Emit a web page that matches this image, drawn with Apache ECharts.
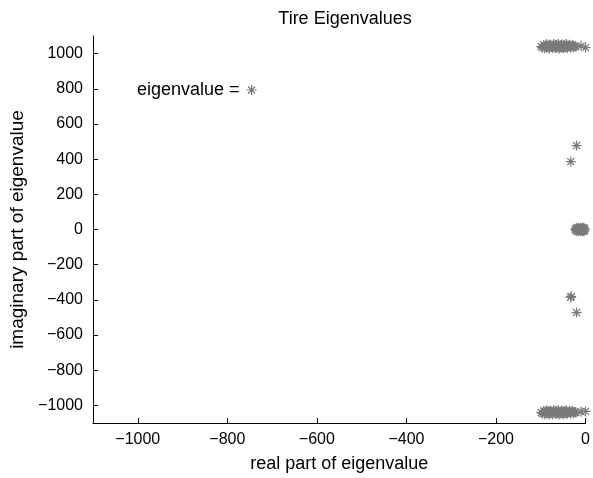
<!DOCTYPE html>
<html>
<head>
<meta charset="utf-8">
<script src="https://cdn.jsdelivr.net/npm/echarts@6/dist/echarts.min.js"></script>
<style>html,body{margin:0;padding:0;background:#fff;}#c{width:593px;height:478px;}</style>
</head>
<body>
<div id="c"></div>
<script>
var titleText = 'Tire Eigenvalues';
var xName = 'real part of eigenvalue';
var yName = 'imaginary part of eigenvalue';
var seriesName = 'eigenvalue';
var xTicks = [-1000, -800, -600, -400, -200, 0];
var yTicks = [-1000, -800, -600, -400, -200, 0, 200, 400, 600, 800, 1000];

var upperCluster = [[-99,1040],[-96,1034],[-93,1048],[-91,1030],[-89,1044],[-87,1054],[-85,1036],[-83,1046],[-81,1028],[-79,1052],[-77,1038],[-75,1046],[-73,1030],[-71,1054],[-69,1040],[-67,1032],[-65,1050],[-63,1036],[-61,1056],[-59,1028],[-57,1046],[-55,1034],[-53,1052],[-51,1040],[-49,1030],[-47,1050],[-45,1036],[-43,1054],[-41,1032],[-39,1046],[-37,1040],[-35,1050],[-33,1034],[-31,1044],[-29,1048],[-27,1036],[-25,1042],[-22,1040],[-10,1044],[0,1034]];
var lowerCluster = [[-99,-1040],[-96,-1046],[-93,-1032],[-91,-1050],[-89,-1036],[-87,-1028],[-85,-1046],[-83,-1034],[-81,-1052],[-79,-1030],[-77,-1044],[-75,-1034],[-73,-1050],[-71,-1028],[-69,-1040],[-67,-1048],[-65,-1032],[-63,-1044],[-61,-1026],[-59,-1052],[-57,-1036],[-55,-1046],[-53,-1030],[-51,-1040],[-49,-1050],[-47,-1032],[-45,-1044],[-43,-1028],[-41,-1048],[-39,-1036],[-37,-1040],[-35,-1030],[-33,-1046],[-31,-1036],[-29,-1032],[-27,-1044],[-25,-1038],[-22,-1040],[-10,-1036],[0,-1034]];
var middlePoints = [[-20,477],[-33,386],[-33,-386],[-32,-380],[-20,-472]];
var zeroCluster = [[-23,0],[-21,6],[-21,-6],[-19,10],[-19,-10],[-17,2],[-15,8],[-15,-8],[-13,0],[-11,10],[-11,-10],[-9,4],[-8,-4],[-7,8],[-7,-8],[-5,0],[-4,10],[-4,-10],[-2,4],[-2,-4]];

var starPath = 'path://M1 8.9L19 8.9L19 11.1L1 11.1Z M8.9 1L11.1 1L11.1 19L8.9 19Z M4.42 2.86L17.14 15.58L15.58 17.14L2.86 4.42Z M15.58 2.86L17.14 4.42L4.42 17.14L2.86 15.58Z';

var allData = upperCluster.concat(lowerCluster, middlePoints, zeroCluster);

var chart = echarts.init(document.getElementById('c'), null, {renderer: 'canvas'});
var font = 'Liberation Sans, Arial, Helvetica, sans-serif';
function fmt(v) { return v < 0 ? '\u2212' + Math.abs(v) : String(v); }
chart.setOption({
  animation: false,
  backgroundColor: '#fff',
  title: {
    text: titleText,
    left: 340, top: 5, textAlign: 'center',
    textStyle: {fontFamily: font, fontSize: 18, fontWeight: 'normal', color: '#000'}
  },
  legend: {
    show: true,
    data: [{name: seriesName, icon: starPath}],
    left: 132, top: 76,
    align: 'right',
    itemWidth: 10, itemHeight: 10, itemGap: 0,
    formatter: function (n) { return n + ' ='; },
    textStyle: {fontFamily: font, fontSize: 18, color: '#000', padding: [0, 2, 0, 0]}
  },
  grid: {left: 93, top: 36, width: 494, height: 388, containLabel: false},
  xAxis: {
    type: 'value', min: -1100, max: 0, interval: 200,
    name: xName, nameLocation: 'middle', nameGap: 32,
    nameTextStyle: {fontFamily: font, fontSize: 18, color: '#000'},
    axisLine: {show: true, onZero: false, lineStyle: {color: '#000', width: 1}},
    axisTick: {show: true, inside: true, length: 5, lineStyle: {color: '#000'},
      customValues: xTicks},
    axisLabel: {fontFamily: font, fontSize: 16, color: '#000', margin: 9,
      customValues: xTicks, formatter: fmt},
    splitLine: {show: false}
  },
  yAxis: {
    type: 'value', min: -1100, max: 1100, interval: 200,
    name: yName, nameLocation: 'middle', nameGap: 58,
    nameTextStyle: {fontFamily: font, fontSize: 19, color: '#000'},
    axisLine: {show: true, onZero: false, lineStyle: {color: '#000', width: 1}},
    axisTick: {show: true, inside: true, length: 5, lineStyle: {color: '#000'},
      customValues: yTicks},
    axisLabel: {fontFamily: font, fontSize: 16, color: '#000', margin: 10,
      customValues: yTicks, formatter: fmt},
    splitLine: {show: false}
  },
  series: [
    {
      name: seriesName, type: 'scatter',
      symbol: starPath, symbolSize: 10,
      itemStyle: {color: '#7a7a7a', opacity: 1},
      data: allData
    }
  ]
});
</script>
</body>
</html>
